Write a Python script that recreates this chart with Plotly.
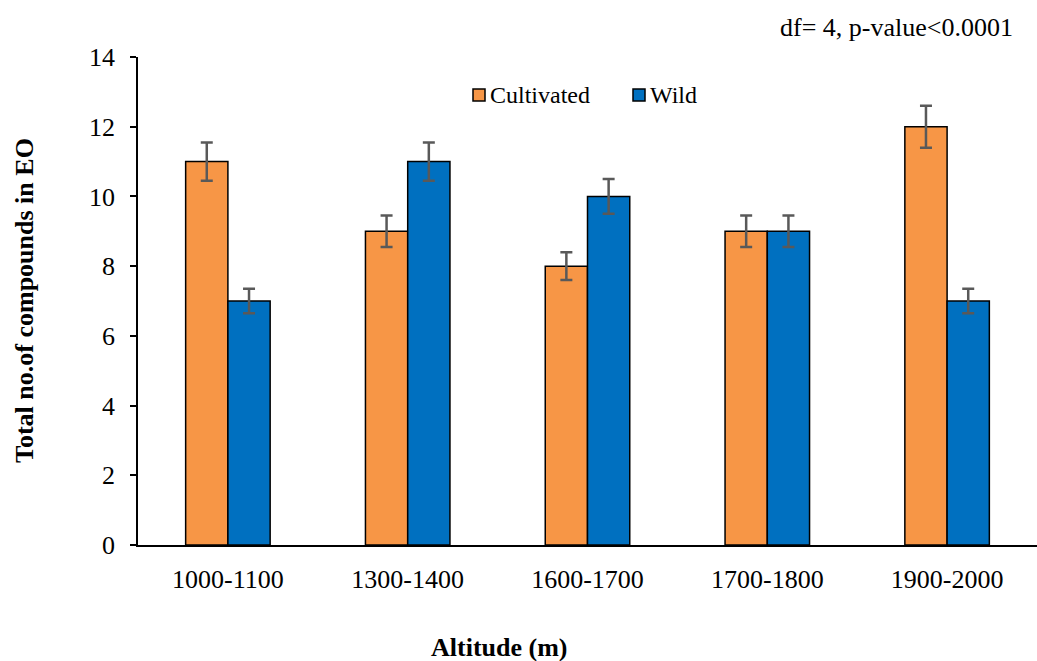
import plotly.graph_objects as go

categories = ["1000-1100", "1300-1400", "1600-1700", "1700-1800", "1900-2000"]
cultivated = [11, 9, 8, 9, 12]
wild = [7, 11, 10, 9, 7]
cultivated_err = [0.55, 0.45, 0.4, 0.45, 0.6]
wild_err = [0.35, 0.55, 0.5, 0.45, 0.35]
y_ticks = [0, 2, 4, 6, 8, 10, 12, 14]
series_names = ["Cultivated", "Wild"]
series_colors = ["#F79646", "#0070C0"]

FONT = "Liberation Serif"
W, H = 1037, 661
ML, MR, MT, MB = 138, 0, 57, 116
PW, PH = W - ML - MR, H - MT - MB

def px(xpix):
    return (xpix - ML) / PW

def py(ypix):
    return (H - MB - ypix) / PH

fig = go.Figure()
for name, vals, errs, col in zip(series_names, [cultivated, wild],
                                 [cultivated_err, wild_err], series_colors):
    fig.add_trace(go.Bar(
        name=name, x=categories, y=vals, showlegend=False,
        marker=dict(color=col, line=dict(color="black", width=1.5)),
        error_y=dict(type="data", array=errs, color="#595959", thickness=2.5, width=6),
    ))

# manual legend (swatch + label)
legend_pos = [473, 633]
shapes = []
annotations = []
for name, col, x0 in zip(series_names, series_colors, legend_pos):
    shapes.append(dict(type="rect", xref="paper", yref="paper",
                       x0=px(x0), x1=px(x0 + 12), y0=py(101), y1=py(89),
                       fillcolor=col, line=dict(color="black", width=1.5)))
    annotations.append(dict(text=name, xref="paper", yref="paper",
                            x=px(x0 + 15), y=py(95), xanchor="left", yanchor="middle",
                            showarrow=False, font=dict(family=FONT, size=24, color="black")))

annotations += [
    dict(text="df= 4, p-value<0.0001", xref="paper", yref="paper",
         x=px(1015), y=py(27), xanchor="right", yanchor="middle",
         showarrow=False, font=dict(family=FONT, size=26)),
    dict(text="<b>Altitude (m)</b>", xref="paper", yref="paper",
         x=px(499), y=py(647), xanchor="center", yanchor="middle",
         showarrow=False, font=dict(family=FONT, size=26)),
    dict(text="<b>Total no.of compounds in EO</b>", xref="paper", yref="paper",
         x=px(24), y=0.5, textangle=-90, xanchor="center", yanchor="middle",
         showarrow=False, font=dict(family=FONT, size=26)),
]

fig.update_layout(
    width=W, height=H,
    margin=dict(l=ML, r=MR, t=MT, b=MB),
    plot_bgcolor="white", paper_bgcolor="white",
    barmode="group", bargap=0.53, bargroupgap=0,
    font=dict(family=FONT, size=26, color="black"),
    showlegend=False,
    xaxis=dict(showline=True, linecolor="black", linewidth=1.5, ticks="",
               tickfont=dict(family=FONT, size=26), ticklabelstandoff=10),
    yaxis=dict(range=[0, 14], tickvals=y_ticks, showgrid=False, zeroline=False,
               showline=True, linecolor="black", linewidth=1.5,
               ticks="outside", ticklen=6, tickcolor="black", tickwidth=1.5,
               tickfont=dict(family=FONT, size=26), ticklabelstandoff=10),
    shapes=shapes,
    annotations=annotations,
)

fig.write_html("out.html")
